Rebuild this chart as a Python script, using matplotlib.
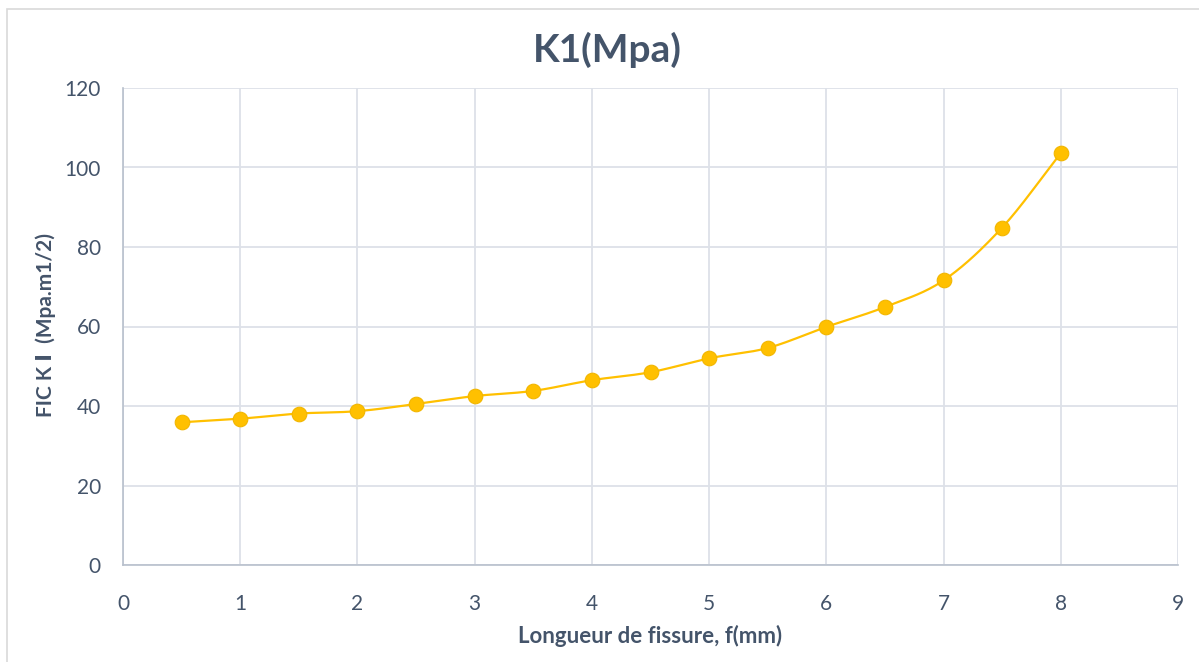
import numpy as np
import matplotlib
matplotlib.use("Agg")
import matplotlib.pyplot as plt
from matplotlib.patches import Rectangle

# Data
crack_length = [0.5, 1, 1.5, 2, 2.5, 3, 3.5, 4, 4.5, 5, 5.5, 6, 6.5, 7, 7.5, 8]
k1_values = [35.9, 36.8, 38.1, 38.7, 40.5, 42.5, 43.8, 46.5, 48.5, 52.0, 54.6, 59.9, 64.9, 71.6, 84.9, 103.6]
x_ticks = [0, 1, 2, 3, 4, 5, 6, 7, 8, 9]
y_ticks = [0, 20, 40, 60, 80, 100, 120]
title = "K1(Mpa)"
x_label = "Longueur de fissure, f(mm)"
y_label = "FIC K \u2160  (Mpa.m1/2)"

plt.rcParams['font.family'] = ['Lato', 'Open Sans', 'DejaVu Sans']

TEXT = "#44546A"
GRID = "#DDE1E8"
GOLD = "#FFC000"


def smooth_curve(xs, ys, n=30):
    """Catmull-Rom style smoothing (like Excel smoothed lines)."""
    xs = np.asarray(xs, float)
    ys = np.asarray(ys, float)
    px = np.concatenate([[2 * xs[0] - xs[1]], xs, [2 * xs[-1] - xs[-2]]])
    py = np.concatenate([[2 * ys[0] - ys[1]], ys, [2 * ys[-1] - ys[-2]]])
    outx, outy = [], []
    t = np.linspace(0, 1, n)
    for i in range(1, len(px) - 2):
        p0, p1, p2, p3 = [np.array([px[j], py[j]]) for j in (i - 1, i, i + 1, i + 2)]
        c1 = p1 + (p2 - p0) / 6.0
        c2 = p2 - (p3 - p1) / 6.0
        pts = ((1 - t) ** 3)[:, None] * p1 + (3 * (1 - t) ** 2 * t)[:, None] * c1 \
            + (3 * (1 - t) * t ** 2)[:, None] * c2 + (t ** 3)[:, None] * p2
        outx.extend(pts[:, 0]); outy.extend(pts[:, 1])
    return np.array(outx), np.array(outy)


W, H = 1199, 662
fig = plt.figure(figsize=(W / 100, H / 100), dpi=100)
fig.patch.set_facecolor("white")
fig.patches.append(Rectangle((7 / W, -0.01), 1.2, 1 - 9 / H + 0.01, transform=fig.transFigure,
                             fill=False, edgecolor="#D9D9D9", linewidth=1.2))

ax = fig.add_axes([123 / W, 1 - 565 / H, (1178 - 123) / W, (565 - 88) / H])
ax.set_xlim(0, 9)
ax.set_ylim(0, 120)
ax.set_xticks(x_ticks)
ax.set_yticks(y_ticks)
ax.grid(True, color=GRID, linewidth=1.3)
ax.set_axisbelow(True)
for s in ("top", "right"):
    ax.spines[s].set_visible(False)
for s in ("left", "bottom"):
    ax.spines[s].set_color("#B8C0CC")
    ax.spines[s].set_linewidth(1.2)
ax.tick_params(length=0, labelsize=15, labelcolor=TEXT)
ax.tick_params(axis='x', pad=21)
ax.tick_params(axis='y', pad=16)

sx, sy = smooth_curve(crack_length, k1_values)
ax.plot(sx, sy, color=GOLD, linewidth=1.6, zorder=3)
ax.plot(crack_length, k1_values, linestyle="none", marker="o", markersize=10.5,
        markerfacecolor=GOLD, markeredgecolor="#F2B600", markeredgewidth=0.8, zorder=4)

fig.text(607 / W, 1 - 50 / H, title, ha="center", va="center", fontsize=28,
         fontweight="bold", color=TEXT)
fig.text(650 / W, 1 - 636 / H, x_label, ha="center", va="center", fontsize=16,
         fontweight="bold", color=TEXT)
fig.text(46 / W, 1 - 325 / H, y_label, ha="center", va="center", rotation=90,
         fontsize=15, fontweight="bold", color=TEXT,
         family=['Lato', 'DejaVu Sans'])

fig.savefig("out.png", dpi=100, facecolor="white")
